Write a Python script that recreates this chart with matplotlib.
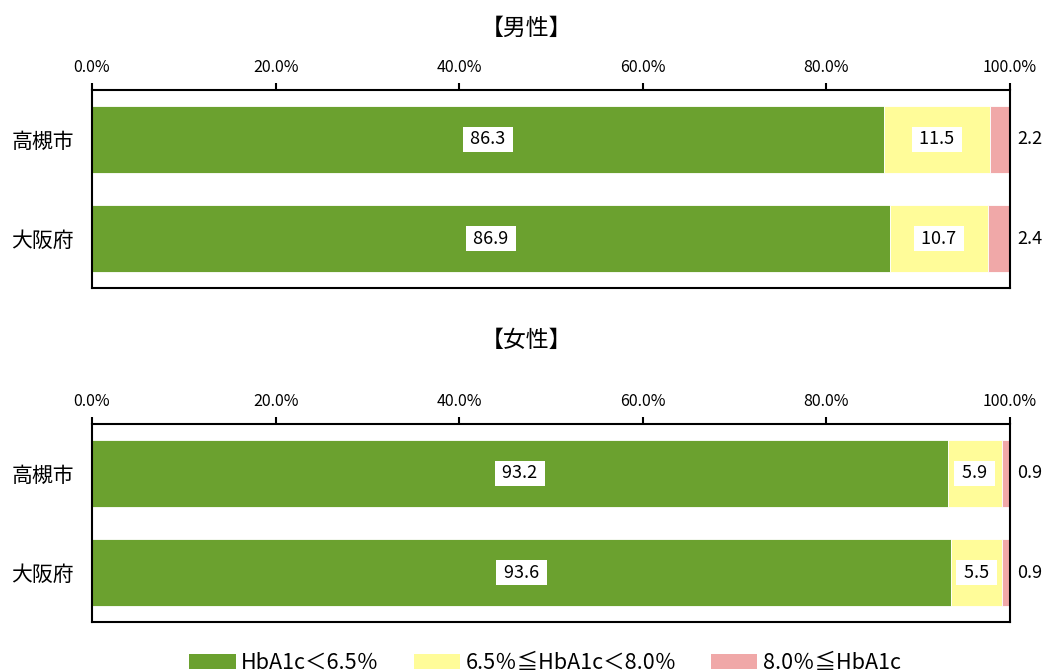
import numpy as np
import matplotlib
matplotlib.use("Agg")
import matplotlib.pyplot as plt
from matplotlib.patches import Patch

plt.rcParams["font.family"] = ["Noto Sans CJK JP", "DejaVu Sans"]

# Data
regions = ["高槻市", "大阪府"]
titles = ["【男性】", "【女性】"]
legend_labels = ["HbA1c＜6.5％", "6.5％≦HbA1c＜8.0％", "8.0％≦HbA1c"]
male_low = [86.3, 86.9]
male_mid = [11.5, 10.7]
male_high = [2.2, 2.4]
female_low = [93.2, 93.6]
female_mid = [5.9, 5.5]
female_high = [0.9, 0.9]
xticks = [0, 20, 40, 60, 80, 100]

colors = ["#6BA12F", "#FFFC99", "#F0A8A8"]


def draw_panel(ax, low, mid, high):
    y = np.arange(len(regions))
    left = np.zeros(len(regions))
    for vals, c in zip([low, mid, high], colors):
        ax.barh(y, vals, left=left, height=0.667, color=c,
                edgecolor="white", linewidth=0.6)
        left = left + np.array(vals)

    # value labels: boxed inside for first two segments, plain outside for last
    for i in range(len(regions)):
        ax.text(low[i] / 2, y[i], f" {low[i]:.1f} ", ha="center", va="center",
                fontsize=13,
                bbox=dict(boxstyle="square,pad=0.2", fc="white", ec="none"))
        ax.text(low[i] + mid[i] / 2, y[i], f" {mid[i]:.1f} ", ha="center",
                va="center", fontsize=13,
                bbox=dict(boxstyle="square,pad=0.2", fc="white", ec="none"))
        ax.text(100.8, y[i], f"{high[i]:.1f}", ha="left", va="center",
                fontsize=13, clip_on=False)

    ax.set_xlim(0, 100)
    ax.set_ylim(1.5, -0.5)
    ax.set_yticks(y)
    ax.set_yticklabels(regions, fontsize=15)
    ax.set_xticks(xticks)
    ax.set_xticklabels([f"{t:.1f}%" for t in xticks], fontsize=11.5)
    ax.xaxis.tick_top()
    ax.tick_params(axis="x", direction="out", length=5, width=1.5, pad=5)
    ax.tick_params(axis="y", length=0, pad=13)
    for s in ax.spines.values():
        s.set_linewidth(1.5)


fig = plt.figure(figsize=(10.45, 6.72), dpi=100)
W, H = 1045, 672

ax1 = fig.add_axes([92 / W, 1 - 288 / H, 918 / W, 198 / H])
ax2 = fig.add_axes([92 / W, 1 - 622 / H, 918 / W, 198 / H])

draw_panel(ax1, male_low, male_mid, male_high)
draw_panel(ax2, female_low, female_mid, female_high)

fig.text(527 / W, 1 - 28 / H, titles[0], ha="center", va="center", fontsize=16.5)
fig.text(527 / W, 1 - 340 / H, titles[1], ha="center", va="center", fontsize=16.5)

handles = [Patch(facecolor=c, edgecolor="none") for c in colors]
fig.legend(handles, legend_labels, loc="center", bbox_to_anchor=(545 / W, 1 - 663 / H),
           ncol=3, frameon=False, fontsize=15.5, handlelength=2.15, handleheight=0.75,
           handletextpad=0.25, columnspacing=1.6, borderpad=0)

fig.savefig("out.png", dpi=100)
plt.close(fig)
